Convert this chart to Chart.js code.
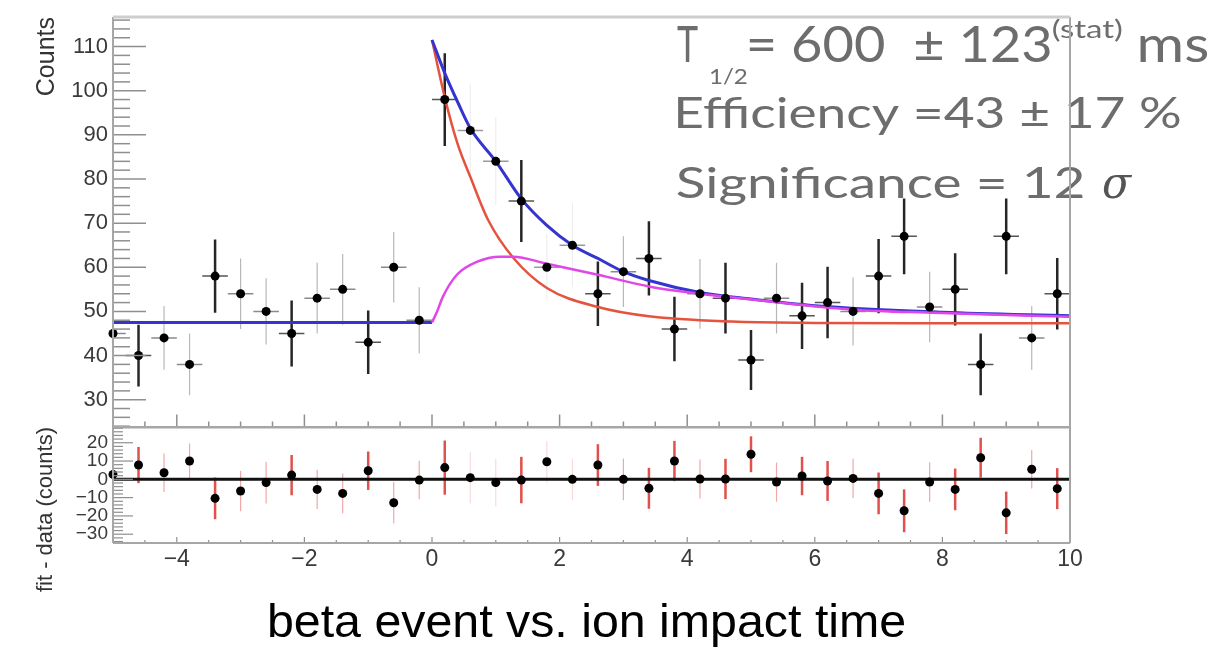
<!DOCTYPE html>
<html>
<head>
<meta charset="utf-8">
<title>beta event vs. ion impact time</title>
<script src="https://cdn.jsdelivr.net/npm/chart.js@4.4.1/dist/chart.umd.min.js"></script>
<style>
  html, body { margin: 0; padding: 0; background: #fff; }
  #wrap { position: relative; width: 1229px; height: 650px; overflow: hidden; }
  #wrap canvas { position: absolute; left: 0; }
  #top { top: 0; }
  #bottom { top: 420px; }
</style>
</head>
<body>
<div id="wrap">
  <canvas id="top" width="1229" height="432"></canvas>
  <canvas id="bottom" width="1229" height="230"></canvas>
</div>
<script>
// ---- data ----
const binCenters = [-5, -4.6, -4.2, -3.8, -3.4, -3.0, -2.6, -2.2, -1.8, -1.4, -1.0, -0.6, -0.2,
  0.2, 0.6, 1.0, 1.4, 1.8, 2.2, 2.6, 3.0, 3.4, 3.8, 4.2, 4.6, 5.0, 5.4, 5.8,
  6.2, 6.6, 7.0, 7.4, 7.8, 8.2, 8.6, 9.0, 9.4, 9.8];
const binHalfWidth = 0.2;
const counts = [45, 40, 44, 38, 58, 54, 50, 45, 53, 55, 43, 60, 48,
  98, 91, 84, 75, 60, 65, 54, 59, 62, 46, 54, 53, 39, 53, 49,
  52, 50, 58, 67, 51, 55, 38, 67, 44, 54];
const countErrors = [6.7, 7, 7.2, 7, 8.3, 8, 7.5, 7.5, 8, 8, 7.2, 8, 7.5,
  10.5, 10.5, 10, 9.3, 7.5, 9.5, 7.3, 8, 8.4, 7.3, 7.9, 8, 6.8, 8, 7.5,
  8.1, 7.7, 8.4, 8.6, 8, 8.2, 7, 8.6, 7.2, 8.1];
const residuals = [2.7, 7.8, 3.6, 10, -10.4, -6.4, -1.8, 2.3, -5.5, -7.7, 4.7, -12.8, -0.4,
  6.4, 0.9, -1.8, -0.4, 9.6, 0, 7.8, 0, -4.9, 10, 0.2, 0.2, 13.7, -1.5, 1.8,
  -0.9, 0.5, -7.7, -17.2, -1.5, -5.5, 11.8, -18.3, 5.5, -5.1];
const residualErrors = [10, 9.9, 10.5, 9.6, 11.4, 11, 11.4, 11, 10.7, 10.9, 10.5, 11.4, 10.5,
  14.8, 14, 13, 12.7, 11.4, 11.4, 11.4, 11.4, 11.2, 11, 10.7, 11, 9.8, 10.7, 10.5,
  10.9, 10.7, 11.4, 11.7, 10.9, 11.4, 10.9, 11.6, 10.5, 11.2];

// fit curves (blue = total, red = parent decay, magenta = daughter)
const bkgX = [-5, 0];
const bkgY = [47.5, 47.5];
const totalX = [0, 0.2, 0.4, 0.6, 1.0, 1.4, 1.8, 2.2, 2.6, 3.0, 3.4, 4.2, 5.0, 6.0, 8.0, 10];
const totalY = [111.5, 104, 97.5, 91.5, 84, 75.5, 69.5, 65, 62, 59, 57, 54.3, 52.8, 51.3, 49.8, 49.0];
const parentX = [0, 0.2, 0.4, 0.6, 0.88, 1.27, 1.8, 2.6, 3.4, 4.7, 6, 8, 10];
const parentY = [111.5, 98.5, 88, 80.5, 70.7, 62.2, 55.3, 51, 48.9, 47.7, 47.4, 47.3, 47.3];
const daughterX = [0, 0.08, 0.17, 0.39, 0.7, 1.07, 1.27, 1.8, 2.6, 3.42, 4.2, 5.4, 6.6, 7.85, 10];
const daughterY = [47.5, 50, 53.3, 58.3, 61.2, 62.4, 62.4, 60.8, 58.3, 55.6, 54, 52.1, 50.4, 49.7, 48.8];

const countTicks = [30, 40, 50, 60, 70, 80, 90, 100, 110];
const residualTicks = [20, 10, 0, -10, -20, -30];
const timeTicks = [-4, -2, 0, 2, 4, 6, 8, 10];
const timeRange = [-5, 10];
const countRange = [23.7, 116.7];
const residualRange = [-34.8, 28.6];

// ---- styles ----
const FONT = '"Liberation Sans", Arial, Helvetica, sans-serif';
const NOTE_FONT = 'Lato, "Open Sans", sans-serif';
const NOTE_COLOR = '#6d6d6d';
const FRAME = '#a6a6a6';
// which error bars come out dark / almost invisible in the picture
const darkBars = [1, 4, 7, 10, 13, 16, 19, 21, 22, 24, 25, 27, 28, 30, 31, 33, 34, 35, 37];
const ghostBars = [14, 15, 17, 18];

const toPoints = (xs, ys) => xs.map((x, i) => ({ x, y: ys[i] }));
const minus = v => String(v).replace('-', '\u2212');

function line(ctx, x0, y0, x1, y1) {
    ctx.beginPath();
    ctx.moveTo(x0, y0);
    ctx.lineTo(x1, y1);
    ctx.stroke();
}

// draw text so that its ink spans x0..x1
function fitText(ctx, text, x0, x1, baseline, font, color) {
    ctx.save();
    ctx.font = font;
    ctx.fillStyle = color;
    ctx.textAlign = 'left';
    ctx.textBaseline = 'alphabetic';
    const m = ctx.measureText(text);
    const ink = m.actualBoundingBoxLeft + m.actualBoundingBoxRight;
    const s = (x1 - x0) / ink;
    ctx.translate(x0 + m.actualBoundingBoxLeft * s, baseline);
    ctx.scale(s, 1);
    ctx.fillText(text, 0, 0);
    ctx.restore();
}

function drawErrorBars(chart, values, errors, pal, withX) {
    const { ctx, chartArea: a, scales: { x, y } } = chart;
    ctx.save();
    ctx.beginPath();
    ctx.rect(a.left, a.top, a.right - a.left, a.bottom - a.top);
    ctx.clip();
    binCenters.forEach((bx, i) => {
        const tone = darkBars.includes(i) ? pal.dark : ghostBars.includes(i) ? pal.ghost : pal.light;
        const px = x.getPixelForValue(bx);
        const py = y.getPixelForValue(values[i]);
        ctx.strokeStyle = tone.color;
        ctx.lineWidth = tone.width;
        line(ctx, px, y.getPixelForValue(values[i] - errors[i]), px, y.getPixelForValue(values[i] + errors[i]));
        if (withX) {
            ctx.strokeStyle = tone.hcolor;
            ctx.lineWidth = 1.5;
            line(ctx, x.getPixelForValue(bx - binHalfWidth), py, x.getPixelForValue(bx + binHalfWidth), py);
        }
    });
    ctx.restore();
}

function drawNote(ctx) {
    const big = '51px ' + NOTE_FONT;
    const mid = '43px ' + NOTE_FONT;
    fitText(ctx, 'T', 677, 698, 62, big, NOTE_COLOR);
    fitText(ctx, '1/2', 710, 747, 84, '22px ' + NOTE_FONT, NOTE_COLOR);
    fitText(ctx, '= 600  \u00b1 123', 749, 1050, 62, big, NOTE_COLOR);
    fitText(ctx, '(stat)', 1053, 1122, 38, '25px ' + NOTE_FONT, NOTE_COLOR);
    fitText(ctx, 'ms', 1140, 1208, 62, big, NOTE_COLOR);
    fitText(ctx, 'Efficiency =43 \u00b1 17 %', 677, 1180, 128, mid, NOTE_COLOR);
    fitText(ctx, 'Significance = 12', 677, 1083, 198, mid, NOTE_COLOR);
    fitText(ctx, '\u03c3', 1103, 1133, 198, 'italic 44px "DejaVu Serif", serif', '#555');
}

function xEdgeTicks(ctx, a, x, yEdge, dir, majorLen, minorLen) {
    for (let v = timeRange[0] + 0.5; v < timeRange[1]; v += 0.5) {
        const px = x.getPixelForValue(v);
        const len = v % 2 === 0 ? majorLen : minorLen;
        line(ctx, px, yEdge, px, yEdge + dir * len);
    }
}

const topDecor = {
    id: 'topDecor',
    beforeDatasetsDraw(chart) {
        drawErrorBars(chart, counts, countErrors, {
            dark: { color: '#262626', width: 2.5, hcolor: '#555' },
            light: { color: '#b8b8b8', width: 1.2, hcolor: '#8a8a8a' },
            ghost: { color: '#ececec', width: 1, hcolor: '#9a9a9a' },
        }, true);
    },
    afterDraw(chart) {
        const { ctx, chartArea: a, scales: { x, y } } = chart;
        drawNote(ctx);
        ctx.save();
        ctx.strokeStyle = '#8f8f8f';
        ctx.lineWidth = 1.5;
        for (let v = 24; v <= 116; v += 2) {
            const py = y.getPixelForValue(v);
            line(ctx, a.left, py, a.left + (v % 10 === 0 ? 33 : 17), py);
        }
        xEdgeTicks(ctx, a, x, a.bottom, -1, 13, 6);
        ctx.strokeStyle = FRAME;
        ctx.lineWidth = 2;
        line(ctx, a.left, a.top, a.left, a.bottom);
        line(ctx, a.left, a.bottom, a.right, a.bottom);
        line(ctx, a.right, a.top, a.right, a.bottom);
        ctx.strokeStyle = '#cdcdcd';
        ctx.lineWidth = 3;
        line(ctx, a.left, a.top, a.right, a.top);
        ctx.restore();
    },
};

const bottomDecor = {
    id: 'bottomDecor',
    beforeDatasetsDraw(chart) {
        drawErrorBars(chart, residuals, residualErrors, {
            dark: { color: '#e0504c', width: 2.5 },
            light: { color: '#f0a8a8', width: 1.2 },
            ghost: { color: '#f6d4d4', width: 1 },
        }, false);
    },
    afterDraw(chart) {
        const { ctx, chartArea: a, scales: { x, y } } = chart;
        ctx.save();
        ctx.strokeStyle = '#8f8f8f';
        ctx.lineWidth = 1.2;
        for (let v = -34; v <= 28; v += 2) {
            const py = y.getPixelForValue(v);
            line(ctx, a.left, py, a.left + (v % 10 === 0 ? 20 : 10), py);
        }
        xEdgeTicks(ctx, a, x, a.bottom, -1, 6, 3);
        ctx.strokeStyle = FRAME;
        ctx.lineWidth = 2;
        line(ctx, a.left, a.top, a.left, a.bottom);
        line(ctx, a.left, a.bottom, a.right, a.bottom);
        line(ctx, a.right, a.top, a.right, a.bottom);
        line(ctx, a.left, a.top, a.right, a.top);
        ctx.restore();
        fitText(ctx, 'beta event vs. ion impact time', 270, 905, 217, '47px ' + FONT, '#000');
    },
};

function curve(xs, ys, color, width) {
    return {
        data: toPoints(xs, ys),
        showLine: true,
        borderColor: color,
        borderWidth: width,
        pointRadius: 0,
        cubicInterpolationMode: 'monotone',
    };
}

function markers(ys) {
    return { data: toPoints(binCenters, ys), pointRadius: 4.5, pointBackgroundColor: '#000', pointBorderWidth: 0, clip: false };
}

const noPad = s => { s.paddingLeft = s.paddingRight = s.paddingTop = s.paddingBottom = 0; };

new Chart(document.getElementById('top'), {
    type: 'scatter',
    data: {
        datasets: [
            markers(counts),
            curve(daughterX, daughterY, '#e046e8', 2.5),
            curve(totalX, totalY, '#3434cf', 3),
            curve(bkgX, bkgY, '#3434cf', 3),
            curve(parentX, parentY, '#e5533f', 2.5),
        ],
    },
    options: {
        responsive: false,
        animation: false,
        devicePixelRatio: 1,
        layout: { padding: { top: 17, right: 159, bottom: 4, left: 0 } },
        plugins: { legend: { display: false }, tooltip: { enabled: false } },
        scales: {
            x: { type: 'linear', min: timeRange[0], max: timeRange[1], display: false },
            y: {
                min: countRange[0],
                max: countRange[1],
                afterBuildTicks: s => { s.ticks = countTicks.map(v => ({ value: v })); },
                afterFit: s => { s.width = 113; noPad(s); },
                grid: { display: false, drawTicks: false },
                border: { display: false },
                ticks: { font: { family: FONT, size: 22 }, color: '#3a3a3a', padding: 5, autoSkip: false },
                title: {
                    display: true, text: 'Counts', align: 'end', color: '#333',
                    font: { family: FONT, size: 25 }, padding: { top: 32, bottom: 0 },
                },
            },
        },
    },
    plugins: [topDecor],
});

new Chart(document.getElementById('bottom'), {
    type: 'scatter',
    data: {
        datasets: [
            markers(residuals),
            curve(timeRange, [0, 0], '#111', 3),
        ],
    },
    options: {
        responsive: false,
        animation: false,
        devicePixelRatio: 1,
        layout: { padding: { top: 7, right: 159, bottom: 0, left: 0 } },
        plugins: { legend: { display: false }, tooltip: { enabled: false } },
        scales: {
            x: {
                type: 'linear',
                min: timeRange[0],
                max: timeRange[1],
                afterBuildTicks: s => { s.ticks = timeTicks.map(v => ({ value: v })); },
                afterFit: s => { s.height = 107; noPad(s); },
                grid: { display: false, drawTicks: false },
                border: { display: false },
                ticks: { font: { family: FONT, size: 23 }, color: '#3a3a3a', padding: 3, maxRotation: 0, autoSkip: false, callback: minus },
            },
            y: {
                min: residualRange[0],
                max: residualRange[1],
                afterBuildTicks: s => { s.ticks = residualTicks.map(v => ({ value: v })); },
                afterFit: s => { s.width = 113; noPad(s); },
                grid: { display: false, drawTicks: false },
                border: { display: false },
                ticks: { font: { family: FONT, size: 19, lineHeight: 1 }, color: '#3a3a3a', padding: 5, autoSkip: false, callback: minus },
                title: {
                    display: true, text: 'fit - data (counts)', align: 'end', color: '#333',
                    font: { family: FONT, size: 22 }, padding: { top: 33, bottom: 0 },
                },
            },
        },
    },
    plugins: [bottomDecor],
});
</script>
</body>
</html>
